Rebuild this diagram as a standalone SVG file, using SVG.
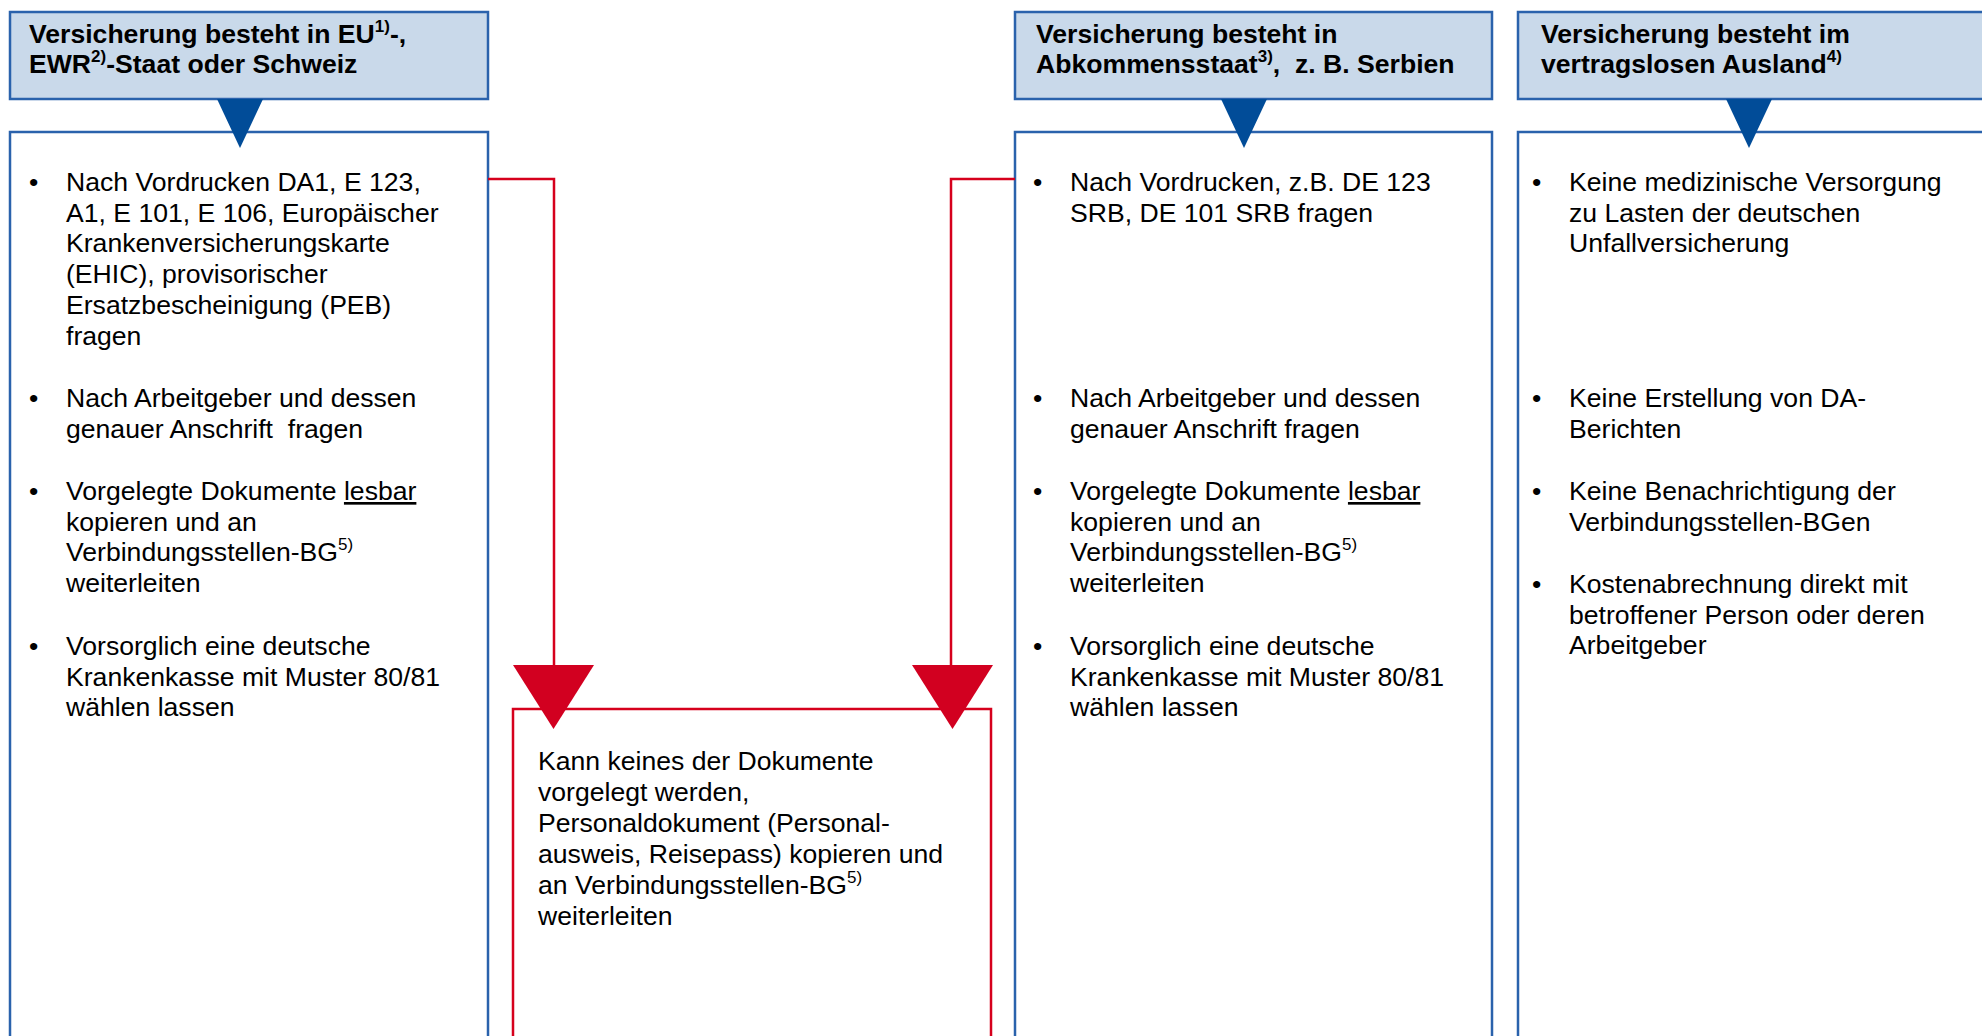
<svg xmlns="http://www.w3.org/2000/svg" width="1982" height="1036" viewBox="0 0 1982 1036">
<style>
.hdr{fill:#c9d9ea;stroke:#2a62ac;stroke-width:2.5}
.body{fill:#ffffff;stroke:#2a62ac;stroke-width:2.5}
.tri{fill:#014c98}
.rbox{fill:#ffffff;stroke:#d6001c;stroke-width:2.5}
.rline{fill:none;stroke:#d6001c;stroke-width:2.5}
.rtri{fill:#d20020}
text{font-family:"Liberation Sans",Arial,sans-serif;font-size:26.6px;fill:#000;white-space:pre}
.h{font-weight:bold}
.sup{font-size:17px}
</style>
<rect width="1982" height="1036" fill="#ffffff"/>

<g id="body1">
<rect class="body" x="10" y="132" width="478" height="920"/>
<text x="29" y="191">•</text>
<text x="66" y="191">Nach Vordrucken DA1, E 123,</text>
<text x="66" y="221.7">A1, E 101, E 106, Europäischer</text>
<text x="66" y="252.4">Krankenversicherungskarte</text>
<text x="66" y="283.1">(EHIC), provisorischer</text>
<text x="66" y="313.8">Ersatzbescheinigung (PEB)</text>
<text x="66" y="344.5">fragen</text>
<text x="29" y="407">•</text>
<text x="66" y="407">Nach Arbeitgeber und dessen</text>
<text x="66" y="437.5">genauer Anschrift  fragen</text>
<text x="29" y="500">•</text>
<text x="66" y="500">Vorgelegte Dokumente <tspan text-decoration="underline">lesbar</tspan></text>
<text x="66" y="530.7">kopieren und an</text>
<text x="66" y="561.4">Verbindungsstellen-BG<tspan class="sup" dy="-11">5)</tspan></text>
<text x="66" y="592">weiterleiten</text>
<text x="29" y="655">•</text>
<text x="66" y="655">Vorsorglich eine deutsche</text>
<text x="66" y="685.7">Krankenkasse mit Muster 80/81</text>
<text x="66" y="716.4">wählen lassen</text>
</g>

<g id="header1">
<rect class="hdr" x="10" y="12" width="478" height="87"/>
<text class="h" x="29" y="43">Versicherung besteht in EU<tspan class="sup" dy="-11">1)</tspan><tspan dy="11">-,</tspan></text>
<text class="h" x="29" y="73">EWR<tspan class="sup" dy="-11">2)</tspan><tspan dy="11">-Staat oder Schweiz</tspan></text>
</g>

<g id="body2">
<rect class="body" x="1015" y="132" width="477" height="920"/>
<text x="1033" y="191">•</text>
<text x="1070" y="191">Nach Vordrucken, z.B. DE 123</text>
<text x="1070" y="221.7">SRB, DE 101 SRB fragen</text>
<text x="1033" y="407">•</text>
<text x="1070" y="407">Nach Arbeitgeber und dessen</text>
<text x="1070" y="437.5">genauer Anschrift fragen</text>
<text x="1033" y="500">•</text>
<text x="1070" y="500">Vorgelegte Dokumente <tspan text-decoration="underline">lesbar</tspan></text>
<text x="1070" y="530.7">kopieren und an</text>
<text x="1070" y="561.4">Verbindungsstellen-BG<tspan class="sup" dy="-11">5)</tspan></text>
<text x="1070" y="592">weiterleiten</text>
<text x="1033" y="655">•</text>
<text x="1070" y="655">Vorsorglich eine deutsche</text>
<text x="1070" y="685.7">Krankenkasse mit Muster 80/81</text>
<text x="1070" y="716.4">wählen lassen</text>
</g>

<g id="header2">
<rect class="hdr" x="1015" y="12" width="477" height="87"/>
<text class="h" x="1036" y="43">Versicherung besteht in</text>
<text class="h" x="1036" y="73">Abkommensstaat<tspan class="sup" dy="-11">3)</tspan><tspan dy="11">,  z. B. Serbien</tspan></text>
</g>

<g id="body3">
<rect class="body" x="1518" y="132" width="478" height="920"/>
<text x="1532" y="191">•</text>
<text x="1569" y="191">Keine medizinische Versorgung</text>
<text x="1569" y="221.7">zu Lasten der deutschen</text>
<text x="1569" y="252.4">Unfallversicherung</text>
<text x="1532" y="407">•</text>
<text x="1569" y="407">Keine Erstellung von DA-</text>
<text x="1569" y="437.5">Berichten</text>
<text x="1532" y="500">•</text>
<text x="1569" y="500">Keine Benachrichtigung der</text>
<text x="1569" y="530.7">Verbindungsstellen-BGen</text>
<text x="1532" y="593">•</text>
<text x="1569" y="593">Kostenabrechnung direkt mit</text>
<text x="1569" y="623.7">betroffener Person oder deren</text>
<text x="1569" y="654.4">Arbeitgeber</text>
</g>

<g id="header3">
<rect class="hdr" x="1518" y="12" width="478" height="87"/>
<text class="h" x="1541" y="43">Versicherung besteht im</text>
<text class="h" x="1541" y="73">vertragslosen Ausland<tspan class="sup" dy="-11">4)</tspan></text>
</g>

<g id="redbox">
<rect class="rbox" x="513" y="709" width="478" height="340"/>
<text x="538" y="770">Kann keines der Dokumente</text>
<text x="538" y="801">vorgelegt werden,</text>
<text x="538" y="832">Personaldokument (Personal-</text>
<text x="538" y="863">ausweis, Reisepass) kopieren und</text>
<text x="538" y="894">an Verbindungsstellen-BG<tspan class="sup" dy="-11">5)</tspan></text>
<text x="538" y="925">weiterleiten</text>
</g>

<g id="connectors">
<polygon class="tri" points="217,99 263,99 240,148"/>
<polygon class="tri" points="1221,99 1267,99 1244,148"/>
<polygon class="tri" points="1726,99 1772,99 1749,148"/>
<polyline class="rline" points="488,179 554,179 554,666"/>
<polyline class="rline" points="1015,179 951,179 951,666"/>
<polygon class="rtri" points="513,665 594,665 553.5,729"/>
<polygon class="rtri" points="912,665 993,665 952.5,729"/>
</g>
</svg>
